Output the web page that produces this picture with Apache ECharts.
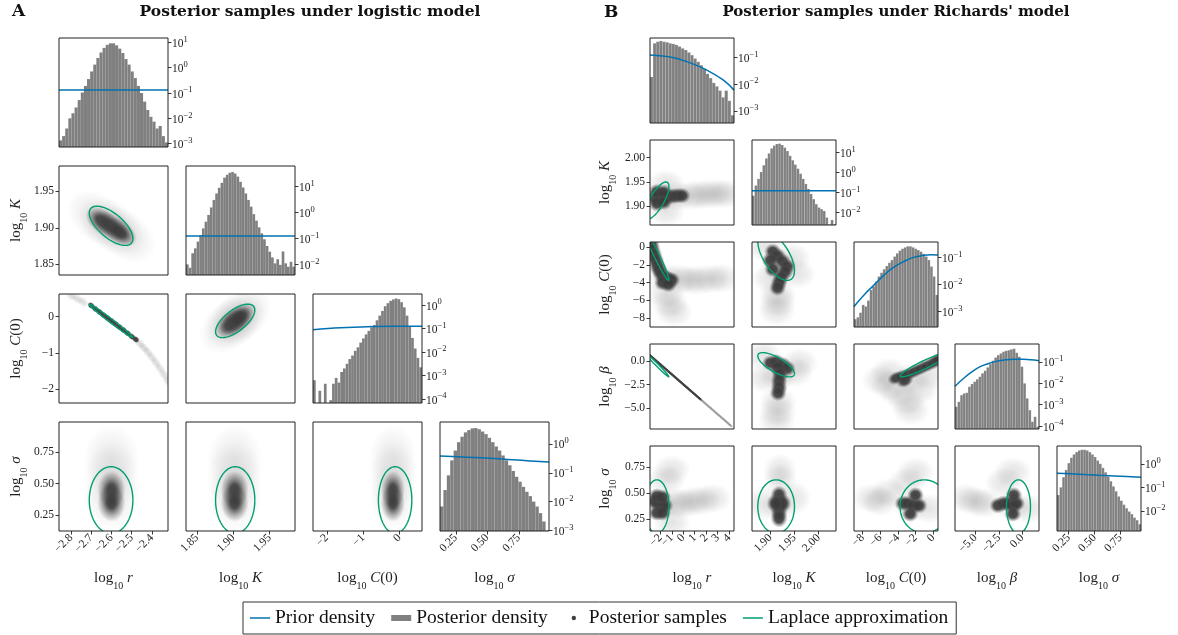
<!DOCTYPE html>
<html>
<head>
<meta charset="utf-8">
<title>Posterior samples under logistic and Richards' models</title>
<script src="https://cdn.jsdelivr.net/npm/echarts@6/dist/echarts.min.js"></script>
<style>
  html, body { margin: 0; padding: 0; background: #fff; }
  #chart { width: 1178px; height: 635px; }
</style>
</head>
<body>
<div id="chart"></div>
<script>
// ---------- A: logistic model ----------
const namesA = ['r', 'K', 'C', 'σ'];
const rangesA = [[-2.86, -2.32], [1.835, 1.985], [-2.38, 0.62], [0.125, 0.99]];
const ticksA = [[-2.8, -2.7, -2.6, -2.5, -2.4], [1.85, 1.9, 1.95], [-2, -1, 0], [0.25, 0.5, 0.75]];

// histogram heights, log10 of density, one value per bin (null = empty bin)
const histA_r = [-2.87, -2.7, -2.4, -2.0, -1.8, -1.57, -1.28, -0.98, -0.72, -0.45, -0.15, 0.12, 0.38, 0.6, 0.78, 0.9, 0.96, 0.96, 0.88, 0.75, 0.58, 0.34, 0.12, -0.15, -0.41, -0.72, -1.0, -1.34, -1.67, -1.94, -2.13, -2.4, -2.3, -2.7, -2.95];
const histA_K = [-2.0, -2.13, -1.57, -1.38, -1.12, -0.87, -0.61, -0.35, -0.09, 0.2, 0.49, 0.74, 0.96, 1.15, 1.35, 1.46, 1.54, 1.57, 1.51, 1.39, 1.19, 0.97, 0.74, 0.49, 0.23, -0.06, -0.31, -0.57, -0.8, -1.03, -1.29, -1.51, -1.73, -1.96, -1.8, -2.02, -1.5, -1.96, -2.09, -1.9, -2.09];
const histA_C = [-3.2, null, -3.65, null, -3.35, null, -4.05, -3.35, -3.1, -3.3, -2.85, -2.7, -2.5, -2.3, -2.15, -1.95, -1.8, -1.6, -1.42, -1.25, -1.1, -0.95, -0.85, -0.65, -0.45, -0.25, -0.05, 0.08, 0.18, 0.24, 0.28, 0.25, 0.12, -0.1, -0.45, -0.9, -1.4, -1.85, -2.25, -2.65];
const histA_sigma = [-2.17, -1.6, -1.09, -0.57, -0.23, 0.06, 0.25, 0.4, 0.48, 0.54, 0.55, 0.51, 0.43, 0.34, 0.21, 0.06, -0.09, -0.23, -0.4, -0.57, -0.74, -0.94, -1.14, -1.31, -1.49, -1.66, -1.81, -2.0, -2.17, -2.4, -2.69, -3.0];
const histRangeA = [[-3.13, 1.17], [-2.41, 1.8], [-4.17, 0.47], [-3.02, 0.76]];
const logTicksA = [[1, 0, -1, -2, -3], [1, 0, -1, -2], [0, -1, -2, -3, -4], [0, -1, -2, -3]];

// prior density curves: [value, log10 density]
const priorA_r = [[-2.86, -0.88], [-2.32, -0.88]];
const priorA_K = [[1.835, -0.9], [1.985, -0.9]];
const priorA_C = [[-2.38, -1.05], [-1.63, -0.97], [-0.88, -0.92], [-0.13, -0.9], [0.62, -0.9]];
const priorA_sigma = [[0.125, -0.42], [0.34, -0.46], [0.56, -0.51], [0.77, -0.57], [0.99, -0.63]];

// Laplace approximation: centre, half-width of the contour, correlations
const lapMeanA = [-2.602, 1.9027, -0.12, 0.37];
const lapHalfA = [0.108, 0.027, 0.46, 0.265];
const lapCorrA = [[1], [-0.65, 1], [-0.99, 0.65, 1], [0, 0, 0, 1]];

// posterior sample clouds: dense part and faint spread
const coreA_K_r = [[-2.645, 1.909], [-2.602, 1.902], [-2.559, 1.894]];
const hazeA_K_r = [[-2.66, 1.912], [-2.602, 1.902], [-2.54, 1.891]];
const coreA_C_r = [[-2.70, 0.30], [-2.68, 0.21], [-2.66, 0.13], [-2.64, 0.04], [-2.62, -0.04], [-2.60, -0.12], [-2.58, -0.20], [-2.56, -0.29], [-2.54, -0.37], [-2.52, -0.46], [-2.50, -0.55], [-2.48, -0.63]];
const hazeA_C_r = [[-2.80, 0.58], [-2.77, 0.49], [-2.74, 0.40], [-2.46, -0.74], [-2.44, -0.86], [-2.42, -0.98], [-2.40, -1.12], [-2.38, -1.27], [-2.36, -1.43], [-2.34, -1.60], [-2.32, -1.78]];
const coreA_C_K = [[1.897, -0.21], [1.903, -0.115], [1.909, -0.02]];
const hazeA_C_K = [[1.895, -0.25], [1.903, -0.115], [1.911, 0.02]];
const coreA_s_r = [[-2.60, 0.45], [-2.60, 0.35]];
const hazeA_s_r = [[-2.60, 0.40], [-2.60, 0.56], [-2.60, 0.70]];
const coreA_s_K = [[1.902, 0.45], [1.902, 0.35]];
const hazeA_s_K = [[1.902, 0.40], [1.902, 0.56], [1.902, 0.70]];
const coreA_s_C = [[-0.18, 0.45], [-0.18, 0.35]];
const hazeA_s_C = [[-0.18, 0.40], [-0.18, 0.56], [-0.18, 0.70]];

// ---------- B: Richards' model ----------
const namesB = ['r', 'K', 'C', 'β', 'σ'];
const rangesB = [[-2.9, 4.43], [1.862, 2.036], [-8.98, 0.56], [-7.18, 1.79], [0.137, 0.948]];
const ticksB = [[-2, -1, 0, 1, 2, 3, 4], [1.9, 1.95, 2.0], [-8, -6, -4, -2, 0], [-5, -2.5, 0], [0.25, 0.5, 0.75]];

const histB_r = [-1.73, -0.47, -0.41, -0.38, -0.41, -0.43, -0.47, -0.49, -0.53, -0.59, -0.66, -0.72, -0.81, -0.91, -1.04, -1.16, -1.29, -1.42, -1.61, -1.77, -1.95, -2.08, -2.24, -2.49, -2.24, -2.62, -3.16];
const histB_K = [-1.16, -0.65, -0.32, 0.02, 0.36, 0.7, 0.95, 1.2, 1.34, 1.42, 1.44, 1.37, 1.24, 1.07, 0.83, 0.61, 0.39, 0.19, -0.06, -0.32, -0.57, -0.82, -1.07, -1.33, -1.58, -1.75, -1.83, -1.92, -2.25, -2.59, -2.37, -2.59];
const histB_C = [-3.28, -3.21, -3.04, -2.75, -2.81, -2.59, -2.2, -2.07, -1.89, -1.7, -1.56, -1.43, -1.31, -1.19, -1.09, -0.96, -0.84, -0.74, -0.67, -0.62, -0.58, -0.58, -0.62, -0.67, -0.72, -0.78, -0.86, -0.96, -1.09, -1.33, -1.7, -2.38];
const histB_beta = [-3.1, -2.87, -2.56, -2.48, -2.45, -2.17, -2.04, -1.93, -1.82, -1.7, -1.54, -1.42, -1.26, -1.11, -0.95, -0.8, -0.69, -0.61, -0.53, -0.49, -0.46, -0.42, -0.39, -0.58, -0.77, -1.23, -2.01, -2.71, -3.26, -3.8, -3.57, -4.03];
const histB_sigma = [-1.33, -1.0, -0.57, -0.26, 0.03, 0.26, 0.4, 0.5, 0.57, 0.6, 0.6, 0.57, 0.5, 0.4, 0.29, 0.14, 0.0, -0.17, -0.36, -0.54, -0.74, -0.96, -1.17, -1.39, -1.57, -1.74, -1.89, -2.03, -2.14, -2.29, -2.4, -2.57];
const histRangeB = [[-3.45, -0.27], [-2.62, 1.62], [-3.57, -0.42], [-4.14, -0.17], [-2.86, 0.76]];
const logTicksB = [[-1, -2, -3], [1, 0, -1, -2], [-1, -2, -3], [-1, -2, -3, -4], [0, -1, -2]];

const priorB_r = [[-2.9, -0.91], [-0.92, -1.0], [0.55, -1.19], [2.02, -1.46], [3.48, -1.84], [4.43, -2.22]];
const priorB_K = [[1.862, -0.91], [2.036, -0.91]];
const priorB_C = [[-8.98, -2.81], [-7.84, -2.38], [-6.69, -2.01], [-5.55, -1.64], [-4.5, -1.36], [-3.35, -1.15], [-2.21, -0.99], [-1.06, -0.91], [-0.3, -0.89], [0.56, -0.9]];
const priorB_beta = [[-7.18, -2.14], [-6.28, -1.78], [-5.39, -1.47], [-4.49, -1.23], [-3.59, -1.08], [-2.7, -0.97], [-1.8, -0.91], [-0.9, -0.88], [0.0, -0.88], [0.89, -0.91], [1.79, -0.95]];
const priorB_sigma = [[0.137, -0.4], [0.34, -0.44], [0.543, -0.49], [0.745, -0.53], [0.948, -0.57]];

const lapMeanB = [-2.3, 1.912, -1.0, -0.4, 0.37];
const lapHalfB = [1.05, 0.038, 2.75, 1.28, 0.255];
const lapCorrB = [[1], [0.75, 1], [-0.97, -0.6, 1], [-0.99, -0.73, 0.93, 1], [0, 0, 0, 0, 1]];

const coreB_K_r = [[-2.5, 1.918], [-2.1, 1.918], [-1.7, 1.919], [-1.3, 1.92], [-0.9, 1.921], [-0.5, 1.922], [-0.1, 1.922], [-2.3, 1.93], [-2.3, 1.906], [-1.7, 1.929], [-1.7, 1.909]];
const hazeB_K_r = [[0.6, 1.922], [1.4, 1.924], [2.2, 1.925], [3.0, 1.926], [3.8, 1.926], [-1.5, 1.945], [-1.5, 1.89], [-2.0, 1.918], [-0.6, 1.921]];
const coreB_C_r = [[-2.8, 0.3], [-2.7, -0.3], [-2.55, -0.9], [-2.4, -1.5], [-2.25, -2.1], [-2.1, -2.6], [-1.9, -3.1], [-1.6, -3.4], [-1.3, -3.6], [-1.0, -3.7], [-1.8, -4.0], [-1.3, -4.2]];
const hazeB_C_r = [[-0.3, -3.6], [0.5, -3.7], [1.4, -3.7], [2.4, -3.6], [3.4, -3.5], [-1.5, -5.2], [-1.2, -6.3], [-0.8, -7.3], [-1.5, -3.5]];
const coreB_C_K = [[1.905, -0.5], [1.915, -1.0], [1.925, -1.6], [1.935, -2.2], [1.93, -2.8], [1.922, -3.4], [1.918, -4.0], [1.915, -4.6], [1.9, -1.5], [1.905, -2.5]];
const hazeB_C_K = [[1.915, -5.3], [1.915, -6.2], [1.913, -7.2], [1.945, -1.2], [1.89, 0.0], [1.955, -3.0], [1.9, -3.5], [1.918, -2.2]];
const coreB_b_r = [[-2.9, 0.58], [-2.75, 0.43], [-2.6, 0.27], [-2.45, 0.11], [-2.3, -0.05], [-2.15, -0.2], [-2.0, -0.36], [-1.85, -0.52], [-1.7, -0.68], [-1.55, -0.83], [-1.4, -0.99], [-1.25, -1.15], [-1.1, -1.31], [-0.95, -1.46], [-0.8, -1.62], [-0.65, -1.78], [-0.5, -1.94], [-0.35, -2.1], [-0.2, -2.25], [-0.05, -2.41], [0.1, -2.57], [0.25, -2.73], [0.4, -2.88], [0.55, -3.04], [0.7, -3.2], [0.85, -3.36], [1.0, -3.51], [1.15, -3.67], [1.3, -3.83], [1.45, -3.99]];
const hazeB_b_r = [[1.6, -4.15], [1.75, -4.3], [1.9, -4.46], [2.05, -4.62], [2.2, -4.78], [2.35, -4.93], [2.5, -5.09], [2.65, -5.25], [2.8, -5.41], [2.95, -5.57], [3.1, -5.72], [3.25, -5.88], [3.4, -6.04], [3.55, -6.19], [3.7, -6.35], [3.85, -6.51], [4.0, -6.67], [4.15, -6.83]];
const coreB_b_K = [[1.9, -0.2], [1.912, -0.1], [1.925, -0.4], [1.935, -0.8], [1.915, -0.7], [1.92, -1.4], [1.918, -2.1], [1.918, -2.8], [1.916, -3.4]];
const hazeB_b_K = [[1.916, -4.3], [1.915, -5.3], [1.913, -6.3], [1.95, -1.2], [1.89, -1.8], [1.885, 0.6], [1.96, -0.2], [1.918, -1.5]];
const coreB_b_C = [[-4.2, -1.8], [-3.5, -1.6], [-2.8, -1.4], [-2.1, -1.1], [-1.4, -0.8], [-0.7, -0.5], [0.0, -0.2], [0.5, 0.1], [-3.2, -2.1]];
const hazeB_b_C = [[-6.0, -2.0], [-5.0, -2.6], [-4.0, -3.3], [-3.0, -4.2], [-2.5, -5.2], [-1.5, -3.0], [-0.5, -1.5], [-5.0, -1.2], [-2.5, -1.8]];
const coreB_s_r = [[-2.5, 0.42], [-2.2, 0.40], [-1.9, 0.38], [-1.6, 0.38], [-2.3, 0.31], [-1.8, 0.31], [-2.3, 0.47], [-1.8, 0.46]];
const hazeB_s_r = [[-0.8, 0.40], [0.0, 0.40], [0.8, 0.42], [1.6, 0.43], [2.6, 0.45], [-1.5, 0.62], [-1.0, 0.72], [-1.0, 0.22], [-2.0, 0.38]];
const coreB_s_K = [[1.918, 0.48], [1.918, 0.40], [1.918, 0.32], [1.918, 0.26], [1.926, 0.40], [1.91, 0.40]];
const hazeB_s_K = [[1.92, 0.62], [1.92, 0.72], [1.95, 0.45], [1.885, 0.4], [1.918, 0.38]];
const coreB_s_C = [[-3.4, 0.40], [-2.8, 0.40], [-2.2, 0.38], [-1.6, 0.38], [-2.6, 0.30], [-2.0, 0.48]];
const hazeB_s_C = [[-6.0, 0.42], [-7.0, 0.45], [-5.0, 0.5], [-0.5, 0.35], [-3.0, 0.6], [-2.0, 0.7], [-2.5, 0.38]];
const coreB_s_b = [[-2.6, 0.38], [-2.0, 0.40], [-1.5, 0.40], [-1.0, 0.38], [-0.6, 0.40], [-1.0, 0.30], [-0.9, 0.48]];
const hazeB_s_b = [[-4.0, 0.4], [-5.0, 0.42], [-6.0, 0.45], [-2.0, 0.6], [-1.0, 0.7], [0.5, 0.35], [-1.2, 0.38]];

// ---------- styling ----------
const FONT = '"Liberation Serif", "DejaVu Serif", serif';
const TITLE_FONT = '"DejaVu Serif", serif';
const INK = '#222';
const BLUE = '#0072b2';
const GREEN = '#009e73';
const BAR = '#808080';
const DOT = '#404040';

const nameRich = {
  t: { fontFamily: FONT, fontSize: 15, color: INK, lineHeight: 20, verticalAlign: 'top' },
  s: { fontFamily: FONT, fontSize: 10, color: INK, lineHeight: 10, verticalAlign: 'bottom' },
  i: { fontFamily: FONT, fontSize: 15, fontStyle: 'italic', color: INK, lineHeight: 20, verticalAlign: 'top' }
};
const powRich = {
  b: { fontFamily: FONT, fontSize: 11.5, color: INK, lineHeight: 15, verticalAlign: 'bottom' },
  p: { fontFamily: FONT, fontSize: 8.5, color: INK, lineHeight: 9, verticalAlign: 'top' }
};

function nameText(sym) {
  const v = sym === 'C' ? '{i|C}{t|(0)}' : '{i|' + sym + '}';
  return '{t|log}{s|10}{t| }' + v;
}
function fmtTick(v, d) { return Number(v).toFixed(d).replace('-', '\u2212'); }
function fmtPow(v) {
  const e = Math.round(Math.log10(v));
  return '{b|10}{p|' + String(e).replace('-', '\u2212') + '}';
}

// soft elliptical blob drawn at each sample-cloud point
function blobRenderer(rx, ry, rotDeg, stops) {
  const fill = new echarts.graphic.RadialGradient(0.5, 0.5, 0.5, stops);
  const rot = rotDeg * Math.PI / 180;
  return function (params, api) {
    const p = api.coord([api.value(0), api.value(1)]);
    return {
      type: 'circle', x: p[0], y: p[1], scaleX: rx, scaleY: ry, rotation: rot,
      shape: { cx: 0, cy: 0, r: 1 }, style: { fill: fill }
    };
  };
}
function coreStops(plateau) {
  return [
    { offset: 0, color: 'rgba(58,58,58,0.96)' },
    { offset: plateau, color: 'rgba(60,60,60,0.9)' },
    { offset: (plateau + 1) / 2, color: 'rgba(72,72,72,0.42)' },
    { offset: 1, color: 'rgba(80,80,80,0)' }
  ];
}
function hazeStops(alpha) {
  return [
    { offset: 0, color: 'rgba(90,90,90,' + alpha + ')' },
    { offset: 0.55, color: 'rgba(90,90,90,' + (alpha * 0.6) + ')' },
    { offset: 1, color: 'rgba(90,90,90,0)' }
  ];
}

function barRenderer(stroke) {
  return function (params, api) {
    const p0 = api.coord([api.value(0), api.value(2)]);
    const p1 = api.coord([api.value(1), api.value(2)]);
    const base = params.coordSys.y + params.coordSys.height;
    return {
      type: 'rect',
      shape: { x: p0[0], y: p0[1], width: p1[0] - p0[0], height: base - p0[1] },
      style: stroke ? { fill: BAR, stroke: stroke, lineWidth: 0.5 } : { fill: BAR }
    };
  };
}

function renderEllipse(params, api) {
  const mx = api.value(0), my = api.value(1), hx = api.value(2), hy = api.value(3);
  const phi = Math.acos(api.value(4));
  const pts = [];
  for (let k = 0; k <= 120; k++) {
    const t = (k / 120) * 2 * Math.PI;
    pts.push(api.coord([mx + hx * Math.cos(t), my + hy * Math.cos(t + phi)]));
  }
  return { type: 'polyline', shape: { points: pts }, style: { stroke: GREEN, lineWidth: 1.4, fill: null } };
}

const grids = [], xAxes = [], yAxes = [], series = [];
const tickLine = { color: INK, width: 0.9 };
const labelBase = { fontFamily: FONT, fontSize: 11.5, color: INK, interval: 0, hideOverlap: false };
const noLine = { show: false, onZero: false };

function addCorner(o) {
  const n = o.names.length;
  for (let i = 0; i < n; i++) {
    for (let j = 0; j <= i; j++) {
      const g = grids.length;
      const last = i === n - 1;
      grids.push({
        left: o.x0[j], top: o.y0[i], width: o.w, height: o.h,
        show: true, backgroundColor: 'transparent', borderColor: INK, borderWidth: 1, z: 10,
        containLabel: false
      });
      // the axis ends are padded in as blank, hidden labels so that the
      // crowded rotated labels are all kept by the min/max overlap check
      const lo = o.ranges[j][0], hi = o.ranges[j][1];
      const xVals = [lo].concat(o.ticks[j], [hi]);
      xAxes.push({
        gridIndex: g, type: 'value', min: lo, max: hi,
        axisLine: noLine, splitLine: { show: false },
        axisTick: { show: last, length: 3.5, lineStyle: tickLine, customValues: xVals },
        axisLabel: Object.assign({
          show: last, rotate: 45, margin: 5, customValues: xVals,
          showMinLabel: false, showMaxLabel: false,
          formatter: (v) => (v === lo || v === hi ? '' : fmtTick(v, o.digits[j]))
        }, labelBase),
        name: last ? nameText(o.names[j]) : '', nameLocation: 'middle', nameGap: 40,
        nameTextStyle: { rich: nameRich }
      });
      if (i === j) {
        const lt = o.logTicks[i].map((e) => Math.pow(10, e));
        yAxes.push({
          gridIndex: g, type: 'log', logBase: 10, position: 'right',
          min: Math.pow(10, o.histRanges[i][0]), max: Math.pow(10, o.histRanges[i][1]),
          axisLine: noLine, splitLine: { show: false }, minorTick: { show: false },
          axisTick: { show: true, length: 3.5, lineStyle: tickLine, customValues: lt },
          axisLabel: {
            show: true, margin: 4, customValues: lt, formatter: fmtPow, rich: powRich,
            showMinLabel: true, showMaxLabel: true
          }
        });
        const hist = o.hists[i];
        const a = o.ranges[i][0], step = (o.ranges[i][1] - a) / hist.length;
        const bars = [];
        hist.forEach((v, k) => { if (v !== null) bars.push([a + k * step, a + (k + 1) * step, Math.pow(10, v)]); });
        series.push({
          type: 'custom', name: 'Posterior density', xAxisIndex: g, yAxisIndex: g, clip: true,
          itemStyle: { color: BAR }, encode: { x: [0, 1], y: 2 }, data: bars,
          renderItem: barRenderer(o.barStroke), z: 2, silent: true
        });
        series.push({
          type: 'line', name: 'Prior density', xAxisIndex: g, yAxisIndex: g, clip: true,
          data: o.priors[i].map((p) => [p[0], Math.pow(10, p[1])]),
          smooth: 0.4, symbol: 'none', showSymbol: false, color: BLUE,
          lineStyle: { color: BLUE, width: 1.5 }, itemStyle: { color: BLUE }, z: 4, silent: true
        });
      } else {
        yAxes.push({
          gridIndex: g, type: 'value', min: o.ranges[i][0], max: o.ranges[i][1], position: 'left',
          axisLine: noLine, splitLine: { show: false },
          axisTick: { show: j === 0, length: 3.5, lineStyle: tickLine, customValues: o.ticks[i] },
          axisLabel: Object.assign({
            show: j === 0, margin: 5, customValues: o.ticks[i],
            showMinLabel: true, showMaxLabel: true,
            formatter: (v) => fmtTick(v, o.digits[i])
          }, labelBase),
          name: j === 0 ? nameText(o.names[i]) : '', nameLocation: 'middle', nameRotate: 90,
          nameGap: o.yNameGap, nameTextStyle: { rich: nameRich }
        });
        const key = '' + i + j;
        const st = o.blobs[key];
        const common = { type: 'custom', name: 'Posterior samples', xAxisIndex: g, yAxisIndex: g, clip: true,
          itemStyle: { color: DOT }, encode: { x: 0, y: 1 }, silent: true };
        series.push(Object.assign({}, common, {
          data: o.hazes[key], z: 1,
          renderItem: blobRenderer(st.haze[0], st.haze[1], st.haze[2], hazeStops(st.haze[3]))
        }));
        series.push(Object.assign({}, common, {
          data: o.cores[key], z: 2,
          renderItem: blobRenderer(st.core[0], st.core[1], st.core[2], coreStops(st.core[3]))
        }));
        series.push({
          type: 'custom', name: 'Laplace approximation', xAxisIndex: g, yAxisIndex: g, clip: true,
          itemStyle: { color: GREEN }, encode: { x: 0, y: 1 },
          data: [[o.mean[j], o.mean[i], o.half[j], o.half[i], o.corr[i][j]]],
          renderItem: renderEllipse, z: 4, silent: true
        });
      }
    }
  }
}

// blob looks: core [rx, ry, rotation deg, plateau], haze [rx, ry, rotation deg, alpha]
const softB = { core: [8.5, 8, 0, 0.5], haze: [19, 15, 0, 0.17] };
addCorner({
  names: namesA, x0: [59, 186, 313, 440], y0: [38, 166, 294, 422], w: 109, h: 109,
  ranges: rangesA, ticks: ticksA, digits: [1, 2, 0, 2], barStroke: null,
  hists: [histA_r, histA_K, histA_C, histA_sigma], histRanges: histRangeA, logTicks: logTicksA,
  priors: [priorA_r, priorA_K, priorA_C, priorA_sigma],
  mean: lapMeanA, half: lapHalfA, corr: lapCorrA, yNameGap: 30,
  cores: { '10': coreA_K_r, '20': coreA_C_r, '21': coreA_C_K, '30': coreA_s_r, '31': coreA_s_K, '32': coreA_s_C },
  hazes: { '10': hazeA_K_r, '20': hazeA_C_r, '21': hazeA_C_K, '30': hazeA_s_r, '31': hazeA_s_K, '32': hazeA_s_C },
  blobs: {
    '10': { core: [19, 12, -36, 0.35], haze: [36, 24, -36, 0.16] },
    '20': { core: [4.2, 3.2, -38, 0.6], haze: [6.5, 4.5, -45, 0.22] },
    '21': { core: [18, 12, 38, 0.35], haze: [34, 24, 38, 0.15] },
    '30': { core: [14, 19, 0, 0.3], haze: [28, 34, 0, 0.12] },
    '31': { core: [14, 19, 0, 0.3], haze: [28, 34, 0, 0.12] },
    '32': { core: [12, 19, 0, 0.3], haze: [24, 34, 0, 0.12] }
  }
});

addCorner({
  names: namesB, x0: [650, 752, 854, 955, 1057], y0: [38, 140, 242, 344, 446], w: 84, h: 85,
  ranges: rangesB, ticks: ticksB, digits: [0, 2, 0, 1, 2], barStroke: 'rgba(255,255,255,0.22)',
  hists: [histB_r, histB_K, histB_C, histB_beta, histB_sigma], histRanges: histRangeB, logTicks: logTicksB,
  priors: [priorB_r, priorB_K, priorB_C, priorB_beta, priorB_sigma],
  mean: lapMeanB, half: lapHalfB, corr: lapCorrB, yNameGap: 32,
  cores: { '10': coreB_K_r, '20': coreB_C_r, '21': coreB_C_K, '30': coreB_b_r, '31': coreB_b_K, '32': coreB_b_C, '40': coreB_s_r, '41': coreB_s_K, '42': coreB_s_C, '43': coreB_s_b },
  hazes: { '10': hazeB_K_r, '20': hazeB_C_r, '21': hazeB_C_K, '30': hazeB_b_r, '31': hazeB_b_K, '32': hazeB_b_C, '40': hazeB_s_r, '41': hazeB_s_K, '42': hazeB_s_C, '43': hazeB_s_b },
  blobs: {
    '10': softB, '20': softB, '21': softB,
    '30': { core: [3.2, 1.7, -41, 0.5], haze: [3.2, 1.7, -41, 0.5] },
    '31': softB,
    '32': { core: [9, 6.5, 25, 0.5], haze: [19, 15, 0, 0.17] },
    '40': softB, '41': { core: [8.5, 9.5, 0, 0.5], haze: [17, 17, 0, 0.16] }, '42': softB, '43': softB
  }
});

const ICON_LINE = 'path://M0,0L0,0M20,12L20,12M0,5.25L20,5.25L20,6.75L0,6.75Z';
const ICON_BOX = 'path://M0,0L0,0M20,12L20,12M0,3L20,3L20,9L0,9Z';
const ICON_DOT = 'path://M0,0L0,0M20,12L20,12M7.8,6A2.2,2.2 0 1,0 12.2,6A2.2,2.2 0 1,0 7.8,6Z';

const option = {
  animation: false,
  backgroundColor: '#fff',
  textStyle: { fontFamily: FONT },
  title: [
    { text: 'A', left: 12, top: 3, padding: 0, textStyle: { fontFamily: TITLE_FONT, fontSize: 17, fontWeight: 'bold', color: '#111' } },
    { text: 'Posterior samples under logistic model', left: 310, top: 4, padding: 0, textAlign: 'center', textStyle: { fontFamily: TITLE_FONT, fontSize: 15.5, fontWeight: 'bold', color: '#111' } },
    { text: 'B', left: 604, top: 4, padding: 0, textStyle: { fontFamily: TITLE_FONT, fontSize: 17, fontWeight: 'bold', color: '#111' } },
    { text: "Posterior samples under Richards' model", left: 896, top: 5, padding: 0, textAlign: 'center', textStyle: { fontFamily: TITLE_FONT, fontSize: 15, fontWeight: 'bold', color: '#111' } }
  ],
  legend: {
    left: 243, bottom: 1, selectedMode: false,
    borderColor: '#333', borderWidth: 1, borderRadius: 0, padding: [6, 8, 6, 7],
    itemWidth: 20, itemHeight: 12, itemGap: 16,
    textStyle: { fontFamily: FONT, fontSize: 19.5, color: '#111' },
    data: [
      { name: 'Prior density', icon: ICON_LINE },
      { name: 'Posterior density', icon: ICON_BOX },
      { name: 'Posterior samples', icon: ICON_DOT },
      { name: 'Laplace approximation', icon: ICON_LINE }
    ]
  },
  grid: grids,
  xAxis: xAxes,
  yAxis: yAxes,
  series: series
};

const chart = echarts.init(document.getElementById('chart'));
chart.setOption(option);
window.addEventListener('resize', () => chart.resize());
</script>
</body>
</html>
